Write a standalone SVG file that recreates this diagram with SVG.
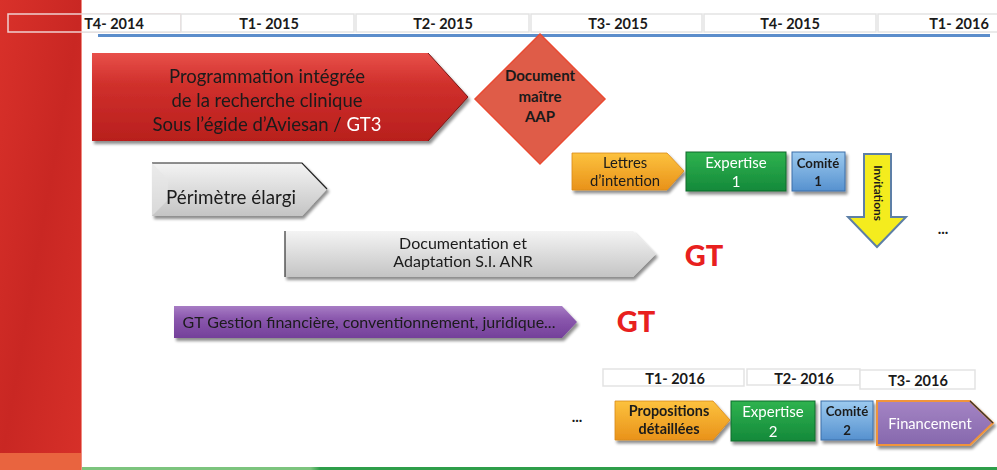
<svg xmlns="http://www.w3.org/2000/svg" width="997" height="470" viewBox="0 0 997 470">
<defs>
<linearGradient id="gRed" x1="0" y1="0" x2="0" y2="1"><stop offset="0" stop-color="#e8504a"/><stop offset="0.35" stop-color="#d0302c"/><stop offset="1" stop-color="#b81f1d"/></linearGradient>
<linearGradient id="gGrey" x1="0" y1="0" x2="0" y2="1"><stop offset="0" stop-color="#f4f4f4"/><stop offset="0.5" stop-color="#dcdcdc"/><stop offset="1" stop-color="#c4c4c4"/></linearGradient>
<linearGradient id="gPurple" x1="0" y1="0" x2="0" y2="1"><stop offset="0" stop-color="#a77cc4"/><stop offset="0.4" stop-color="#8a57ad"/><stop offset="1" stop-color="#74409a"/></linearGradient>
<linearGradient id="gOrange" x1="0" y1="0" x2="0" y2="1"><stop offset="0" stop-color="#fcc23e"/><stop offset="1" stop-color="#e9921a"/></linearGradient>
<linearGradient id="gGreen" x1="0" y1="0" x2="0" y2="1"><stop offset="0" stop-color="#2fb34f"/><stop offset="1" stop-color="#14893a"/></linearGradient>
<linearGradient id="gBlue" x1="0" y1="0" x2="0" y2="1"><stop offset="0" stop-color="#9ccaef"/><stop offset="1" stop-color="#5691cf"/></linearGradient>
<linearGradient id="gFin" x1="0" y1="0" x2="0" y2="1"><stop offset="0" stop-color="#a484c4"/><stop offset="1" stop-color="#8668ad"/></linearGradient>
<linearGradient id="gBand" x1="0" y1="0" x2="1" y2="1"><stop offset="0" stop-color="#d9312a"/><stop offset="0.5" stop-color="#c92723"/><stop offset="1" stop-color="#d73029"/></linearGradient>
<linearGradient id="gGreenLine" x1="0" y1="0" x2="1" y2="0"><stop offset="0" stop-color="#7cc47e"/><stop offset="0.25" stop-color="#7cc47e"/><stop offset="0.26" stop-color="#2e9e4a"/><stop offset="1" stop-color="#2e9e4a"/></linearGradient>
<filter id="sh" x="-10%" y="-20%" width="125%" height="150%"><feGaussianBlur in="SourceAlpha" stdDeviation="1.5"/><feOffset dx="2" dy="3"/><feComponentTransfer><feFuncA type="linear" slope="0.45"/></feComponentTransfer><feMerge><feMergeNode/><feMergeNode in="SourceGraphic"/></feMerge></filter>
</defs>
<style>
text{font-family:Lato,"Open Sans","Liberation Sans",sans-serif;fill:#1a1a1a;text-anchor:middle}
.hdr{fill:#ffffff;stroke:#e3e3e3;stroke-width:1.5}
.ht{font-size:14.5px;font-weight:bold}
.big{font-size:18.5px}
.b13{font-size:15px;font-weight:bold}
.w{fill:#ffffff}
.gt{font-size:29px;font-weight:900;fill:#e8201e}
</style>
<rect width="997" height="470" fill="#ffffff"/>
<g id="band">
<rect x="0" y="0" width="82" height="470" fill="url(#gBand)"/>
<rect x="0" y="453" width="82" height="17" fill="#e9643f"/>
<line x1="81.5" y1="0" x2="81.5" y2="470" stroke="#f08a80" stroke-width="1"/>
<rect x="82" y="467" width="915" height="3" fill="url(#gGreenLine)"/>
</g>
<g id="timeline">
<rect x="8" y="14" width="172" height="18" fill="none" stroke="#f0d0d0" stroke-width="1.5"/>
<rect x="82" y="14" width="98" height="18" fill="#ffffff"/>
<line x1="82" y1="14" x2="180" y2="14" stroke="#e3e3e3" stroke-width="1.5"/>
<line x1="82" y1="32" x2="180" y2="32" stroke="#e3e3e3" stroke-width="1.5"/>
<rect class="hdr" x="181" y="14" width="173" height="18"/>
<rect class="hdr" x="356" y="14" width="173" height="18"/>
<rect class="hdr" x="531" y="14" width="171" height="18"/>
<rect class="hdr" x="704" y="14" width="172" height="18"/>
<rect class="hdr" x="878" y="14" width="125" height="18"/>
<text class="ht" x="114" y="29">T4- 2014</text>
<text class="ht" x="269" y="29">T1- 2015</text>
<text class="ht" x="443" y="29">T2- 2015</text>
<text class="ht" x="618" y="29">T3- 2015</text>
<text class="ht" x="790" y="29">T4- 2015</text>
<text class="ht" x="959" y="29">T1- 2016</text>
<line x1="98" y1="35.5" x2="990" y2="35.5" stroke="#5b8dcb" stroke-width="3"/>
</g>
<g id="prog" filter="url(#sh)">
<polygon points="92,53 428,53 468,97 428,141 92,141" fill="url(#gRed)"/>
<polyline points="428,53 468,97 428,141" fill="none" stroke="#7a1412" stroke-width="1"/>
<text class="big" x="267" y="83">Programmation intégrée</text>
<text class="big" x="267" y="107">de la recherche clinique</text>
<text class="big" x="267" y="131">Sous l’égide d’Aviesan / <tspan class="w">GT3</tspan></text>
</g>
<g id="doc">
<polygon points="540,34 605,99 540,164 475,99" fill="#df5c48" stroke="#ea4a32" stroke-width="1.5"/>
<text class="b13" x="540" y="81">Document</text>
<text class="b13" x="540" y="102">maître</text>
<text class="b13" x="540" y="122">AAP</text>
</g>
<g id="lettres" filter="url(#sh)">
<polygon points="572,153 667,153 684,171 667,190 572,190" fill="url(#gOrange)" stroke="#d98a1a" stroke-width="0.8"/>
<text x="625" y="168" style="font-size:14.8px">Lettres</text>
<text x="625" y="186" style="font-size:14.8px">d’intention</text>
</g>
<g id="exp1" filter="url(#sh)">
<rect x="686" y="152" width="100" height="39" fill="url(#gGreen)" stroke="#0f6a2c" stroke-width="1"/>
<text class="w" x="736" y="168" style="font-size:15px">Expertise</text>
<text class="w" x="736" y="187" style="font-size:15px">1</text>
</g>
<g id="com1" filter="url(#sh)">
<rect x="792" y="152" width="53" height="39" fill="url(#gBlue)" stroke="#3d6fa8" stroke-width="1"/>
<text x="818" y="168" style="font-size:13.2px;font-weight:bold">Comité</text>
<text x="818" y="186" style="font-size:13.2px;font-weight:bold">1</text>
</g>
<g id="invit">
<polygon points="864,154 891,154 891,217 906,217 877,247 848,217 864,217" fill="#f4ec1e" stroke="#5d7fa6" stroke-width="2"/>
<text x="0" y="0" transform="translate(874,193) rotate(90)" style="font-size:11.8px;font-weight:bold">Invitations</text>
</g>
<text x="943" y="234" style="font-size:15px;font-weight:bold">...</text>
<g id="perimetre" filter="url(#sh)">
<polygon points="152,163 302,163 327,189 302,216 152,216" fill="url(#gGrey)"/>
<polyline points="152,163 302,163 327,189" fill="none" stroke="#222" stroke-width="1.2"/>
<polygon points="152,163 168,180 168,200 152,216" fill="#e6e6e6" opacity="0.6"/>
<text x="231" y="204" style="font-size:18.8px">Périmètre élargi</text>
</g>
<g id="docu" filter="url(#sh)">
<polygon points="285,231 633,231 656,254 633,277 285,277" fill="url(#gGrey)"/>
<line x1="285" y1="231" x2="285" y2="277" stroke="#333" stroke-width="1.2"/>
<text x="463" y="249" style="font-size:16px">Documentation et</text>
<text x="463" y="267" style="font-size:16px">Adaptation S.I. ANR</text>
</g>
<text class="gt" x="704" y="266">GT</text>
<g id="gestion" filter="url(#sh)">
<polygon points="174,306 562,306 577,322 562,338 174,338" fill="url(#gPurple)"/>
<text x="369" y="328" style="font-size:16px">GT Gestion financière, conventionnement, juridique...</text>
</g>
<text class="gt" x="636" y="332">GT</text>
<g id="timeline2">
<rect class="hdr" x="603" y="369" width="141" height="17"/>
<rect class="hdr" x="747" y="369" width="113" height="16"/>
<rect class="hdr" x="860" y="370" width="115" height="19"/>
<text class="ht" x="675" y="384">T1- 2016</text>
<text class="ht" x="804" y="384">T2- 2016</text>
<text class="ht" x="918" y="386">T3- 2016</text>
</g>
<text x="577" y="422" style="font-size:15px;font-weight:bold">...</text>
<g id="propositions" filter="url(#sh)">
<polygon points="615,401 713,401 730,420 713,440 615,440" fill="url(#gOrange)" stroke="#d98a1a" stroke-width="0.8"/>
<text x="669" y="416" style="font-size:14.4px;font-weight:bold">Propositions</text>
<text x="669" y="434" style="font-size:14.4px;font-weight:bold">détaillées</text>
</g>
<g id="exp2" filter="url(#sh)">
<rect x="731" y="401" width="84" height="40" fill="url(#gGreen)" stroke="#0f6a2c" stroke-width="1"/>
<text class="w" x="773" y="417" style="font-size:15px">Expertise</text>
<text class="w" x="773" y="437" style="font-size:15px">2</text>
</g>
<g id="com2" filter="url(#sh)">
<rect x="821" y="401" width="52" height="39" fill="url(#gBlue)" stroke="#3d6fa8" stroke-width="1"/>
<text x="847" y="416" style="font-size:13.2px;font-weight:bold">Comité</text>
<text x="847" y="435" style="font-size:13.2px;font-weight:bold">2</text>
</g>
<g id="financement" filter="url(#sh)">
<polygon points="877,401 970,401 993,423 970,445 877,445" fill="url(#gFin)" stroke="#f0943a" stroke-width="2"/>
<polyline points="970,401 993,423" fill="none" stroke="#333" stroke-width="1.2"/>
<text class="w" x="930" y="429" style="font-size:14.7px">Financement</text>
</g>
</svg>
